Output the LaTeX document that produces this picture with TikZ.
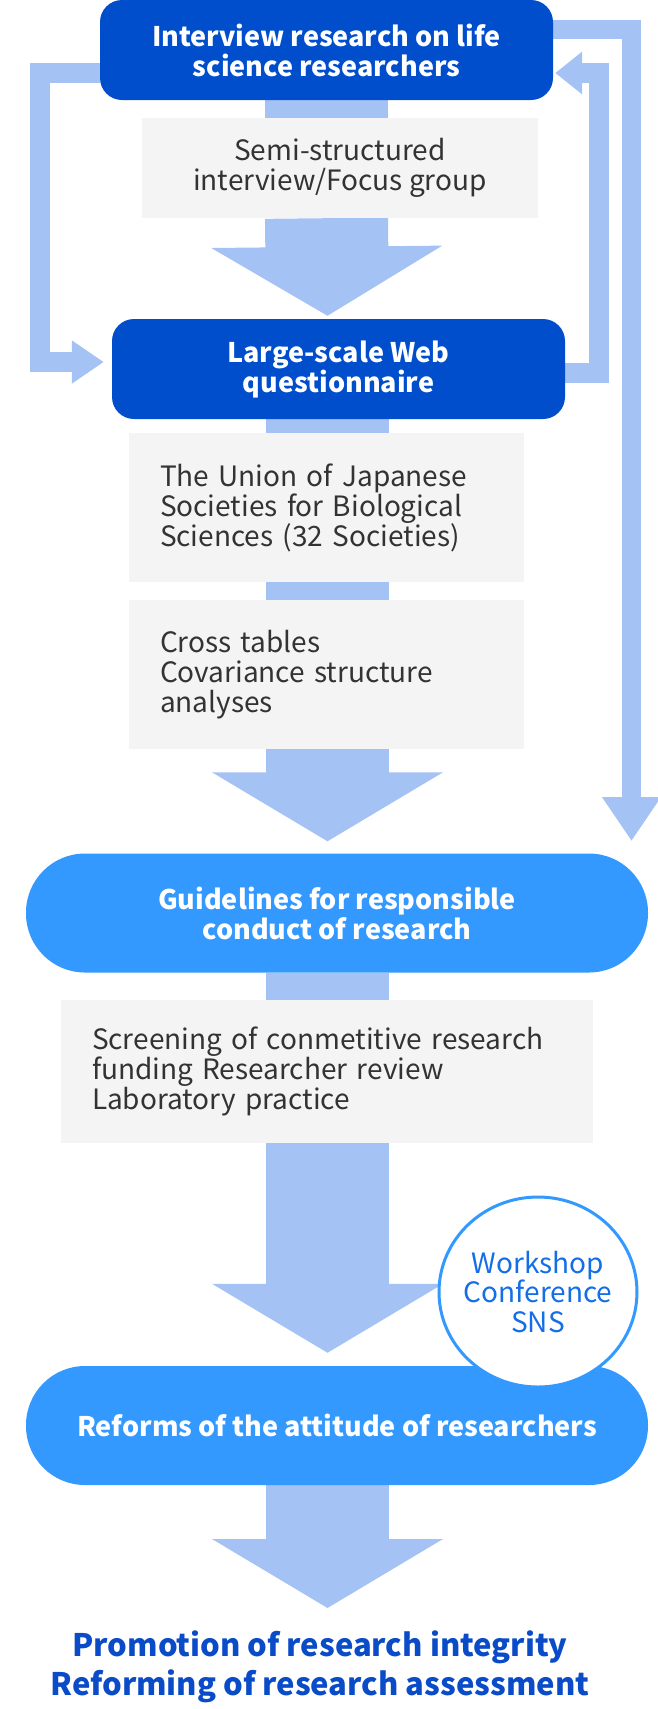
\documentclass[tikz,border=0pt]{standalone}
\usepackage{fontspec}
\setmainfont{Noto Sans CJK JP}
\usetikzlibrary{arrows.meta,positioning,shapes.geometric,calc,backgrounds}
\definecolor{deepblue}{RGB}{0,78,204}
\definecolor{pillblue}{RGB}{51,153,255}
\definecolor{flowblue}{RGB}{164,194,244}
\definecolor{notegray}{RGB}{244,244,244}
\definecolor{notetext}{RGB}{51,51,51}
\definecolor{circtext}{RGB}{20,110,230}
\definecolor{goaltext}{RGB}{10,75,200}

\begin{document}
\begin{tikzpicture}[x=1pt,y=-1pt,
 mainbox/.style={rectangle,fill=deepblue,rounded corners=22pt,minimum width=453pt,
   minimum height=100pt,text=white,align=center,font=\bfseries\fontsize{27}{30}\selectfont},
 note/.style={rectangle,fill=notegray,text=notetext,align=left,inner xsep=31pt,
   font=\fontsize{28}{30}\selectfont},
 pill/.style={rectangle,fill=pillblue,rounded corners=59pt,minimum width=622pt,
   minimum height=119pt,text=white,align=center,font=\bfseries\fontsize{27}{30}\selectfont},
 stem/.style={draw=flowblue,line width=123pt},
 bighead/.style={stem,-{Triangle[length=69pt,width=228pt]}},
 loop/.style={draw=flowblue,line width=20pt,line join=miter}]
\useasboundingbox (0,0) rectangle (658,1709);
% boxes of the chain
\node [mainbox] (interview) at (326.5,50) {Interview research on life\\science researchers};
\node [note,minimum width=396pt,minimum height=100pt,align=center] (semi) at (340,168)
  {Semi-structured\\interview/Focus group};
\node [mainbox] (survey) at (338.5,369) {Large-scale Web\\questionnaire};
\node [note,text width=333pt,minimum height=149pt] (union) at (326.5,507.5)
  {The Union of Japanese\\Societies for Biological\\Sciences (32 Societies)};
\node [note,text width=333pt,minimum height=149pt] (cross) at (326.5,674.5)
  {Cross tables\\Covariance structure\\analyses};
\node [pill] (guide) at (337,913) {Guidelines for responsible\\conduct of research};
\node [note,text width=470pt,minimum height=143pt] (screen) at (327,1071.5)
  {Screening of conmetitive research\\funding Researcher review\\Laboratory practice};
\node [pill] (reform) at (337,1425.5) {Reforms of the attitude of researchers};
\node [ellipse,draw=pillblue,line width=3pt,fill=white,inner sep=-14pt,minimum width=198pt,
  minimum height=190pt,text=circtext,align=center,font=\fontsize{28}{29.5}\selectfont]
  (events) at (538,1292) {Workshop\\Conference\\SNS};
\node [text=goaltext,align=center,font=\bfseries\fontsize{31}{39}\selectfont] (goal) at (320,1667)
  {Promotion of research integrity\\Reforming of research assessment};
\coordinate (tip1) at ($(survey.north)+(-11,-3)$);
\coordinate (tip2) at ($(guide.north)+(-9.5,-12)$);
\coordinate (tip3) at ($(reform.north)+(-9.5,-13)$);
\coordinate (tip4) at (327.5,1608);
\begin{pgfonlayer}{background}
% wide flow arrows
\path [stem] (interview.south) -- (interview.south |- semi.north);
\path [bighead] (interview.south |- semi.south) -- (tip1);
\path [stem] ($(survey.south)+(-11,0)$) -- (tip1 |- union.north);
\path [stem] (tip1 |- union.south) -- (tip1 |- cross.north);
\path [bighead] (tip1 |- cross.south) -- (tip2);
\path [stem] (tip2 |- guide.south) -- (tip2 |- screen.north);
\path [bighead] (tip2 |- screen.south) -- (tip3);
\path [bighead] (tip3 |- reform.south) -- (tip4);
% feedback loops
\path [loop,-{Triangle[length=32pt,width=41pt]}]
 ($(interview.west)+(0,23)$) -| ++(-60,289) -- ($(survey.west)+(-8,-7)$);
\path [loop,-{Triangle[length=27pt,width=41pt]}]
 ($(survey.east)+(0,3.5)$) -| ++(34,-299.5) -- ($(interview.east)+(2,23)$);
\path [loop,line width=19pt,-{Triangle[length=44pt,width=56pt]}]
 ($(interview.east)+(0,-20.5)$) -| (631.5,841);
\end{pgfonlayer}
\end{tikzpicture}
\end{document}
